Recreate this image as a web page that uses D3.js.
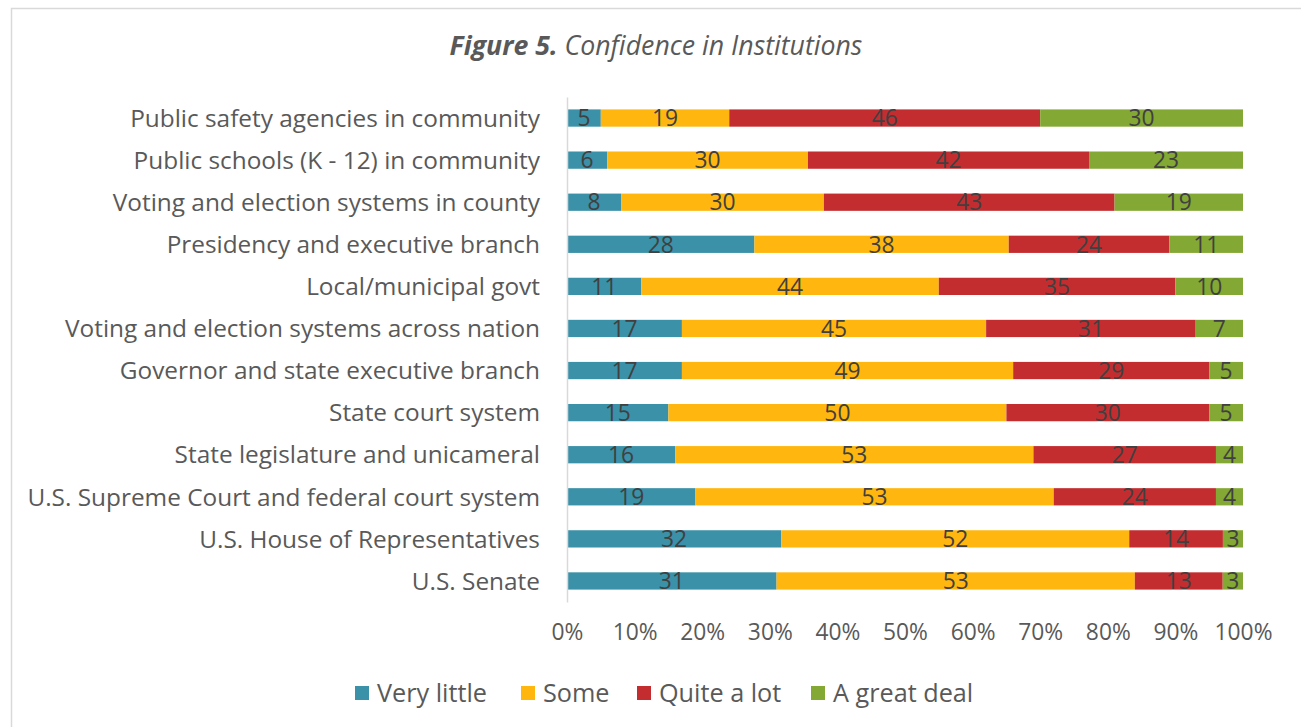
<!DOCTYPE html>
<html><head><meta charset="utf-8">
<script src="https://cdn.jsdelivr.net/npm/d3@7"></script>
<style>body{margin:0;background:#fff}svg{display:block}</style>
</head><body>
<svg id="c" width="1301" height="727"></svg>
<script>
const categories = [
  "Public safety agencies in community",
  "Public schools (K - 12) in community",
  "Voting and election systems in county",
  "Presidency and executive branch",
  "Local/municipal govt",
  "Voting and election systems across nation",
  "Governor and state executive branch",
  "State court system",
  "State legislature and unicameral",
  "U.S. Supreme Court and federal court system",
  "U.S. House of Representatives",
  "U.S. Senate"
];
const seriesNames = ["Very little", "Some", "Quite a lot", "A great deal"];
const veryLittle = [5, 6, 8, 28, 11, 17, 17, 15, 16, 19, 32, 31];
const some       = [19, 30, 30, 38, 44, 45, 49, 50, 53, 53, 52, 53];
const quiteALot  = [46, 42, 43, 24, 35, 31, 29, 30, 27, 24, 14, 13];
const greatDeal  = [30, 23, 19, 11, 10, 7, 5, 5, 4, 4, 3, 3];
const tickValues = [0, 0.1, 0.2, 0.3, 0.4, 0.5, 0.6, 0.7, 0.8, 0.9, 1];
const colors = ["#3A91A8", "#FFB70F", "#C42D30", "#84A834"];

const FONT = "'Open Sans', sans-serif";
const svg = d3.select("#c");
svg.append("rect").attr("x", 11.5).attr("y", 8.5).attr("width", 1300).attr("height", 730)
  .attr("fill", "#fff").attr("stroke", "#d9d9d9").attr("stroke-width", 1.5);

// helper: pick font size so a sample string reaches a target width
function fitSize(sample, target, base) {
  const t = svg.append("text").attr("font-family", FONT).attr("font-size", base).text(sample);
  const w = t.node().getComputedTextLength();
  t.remove();
  return base * target / w;
}
const labelSize = fitSize(categories[0], 410, 20);
const tickSize = fitSize("100%", 58, 20);
const legendSize = fitSize("Very little", 110, 20);
const dataSize = tickSize;

const rows = categories.map((c, i) => ({cat: c, "Very little": veryLittle[i], "Some": some[i], "Quite a lot": quiteALot[i], "A great deal": greatDeal[i]}));
rows.forEach(r => { r.total = seriesNames.reduce((s, k) => s + r[k], 0); });
const normRows = rows.map(r => { const o = {cat: r.cat}; seriesNames.forEach(k => o[k] = r[k] / r.total); o.raw = r; return o; });
const stack = d3.stack().keys(seriesNames)(normRows);

const x = d3.scaleLinear().domain([0, 1]).range([567, 1243]);
const y = d3.scaleBand().domain(categories).range([97, 602]).paddingInner(0.59).paddingOuter(0.295);

// title
const title = svg.append("text").attr("x", 656).attr("y", 55).attr("text-anchor", "middle")
  .attr("font-family", FONT).attr("font-size", 20).attr("font-style", "italic").attr("fill", "#595959");
title.append("tspan").attr("font-weight", "bold").text("Figure 5.");
title.append("tspan").text(" Confidence in Institutions");
const tw = title.node().getComputedTextLength();
title.attr("font-size", 20 * 413 / tw);

// bars
const g = svg.append("g");
stack.forEach((s, si) => {
  const gg = g.append("g").attr("fill", colors[si]);
  gg.selectAll("rect").data(s).join("rect")
    .attr("x", d => x(d[0])).attr("width", d => x(d[1]) - x(d[0]))
    .attr("y", d => y(d.data.cat)).attr("height", y.bandwidth());
  g.append("g").selectAll("text").data(s).join("text")
    .attr("x", d => (x(d[0]) + x(d[1])) / 2)
    .attr("y", d => y(d.data.cat) + y.bandwidth() / 2)
    .attr("dy", "0.36em")
    .attr("text-anchor", "middle").attr("font-family", FONT).attr("font-size", dataSize).attr("fill", "#404040")
    .text(d => d.data.raw[seriesNames[si]]);
});

// y axis
const ya = svg.append("g").attr("transform", `translate(${x(0)},0)`).call(d3.axisLeft(y).tickSize(0).tickPadding(27));
ya.select(".domain").attr("stroke", "#d9d9d9").attr("stroke-width", 1.5);
ya.selectAll("text").attr("font-family", FONT).attr("font-size", labelSize).attr("fill", "#595959").attr("dy", "0.36em");

// x axis
const xa = svg.append("g").attr("transform", "translate(0,602)").call(d3.axisBottom(x).tickValues(tickValues).tickFormat(d3.format(".0%")).tickSize(0).tickPadding(22));
xa.select(".domain").remove();
xa.selectAll("text").attr("font-family", FONT).attr("font-size", tickSize).attr("fill", "#595959");

// legend
const legX = [355, 521, 637, 811];
const leg = svg.append("g");
seriesNames.forEach((n, i) => {
  leg.append("rect").attr("x", legX[i]).attr("y", 686).attr("width", 14).attr("height", 14).attr("fill", colors[i]);
  leg.append("text").attr("x", legX[i] + 22).attr("y", 693).attr("dy", "0.36em").attr("font-family", FONT).attr("font-size", legendSize).attr("fill", "#595959").text(n);
});
</script>
</body></html>
